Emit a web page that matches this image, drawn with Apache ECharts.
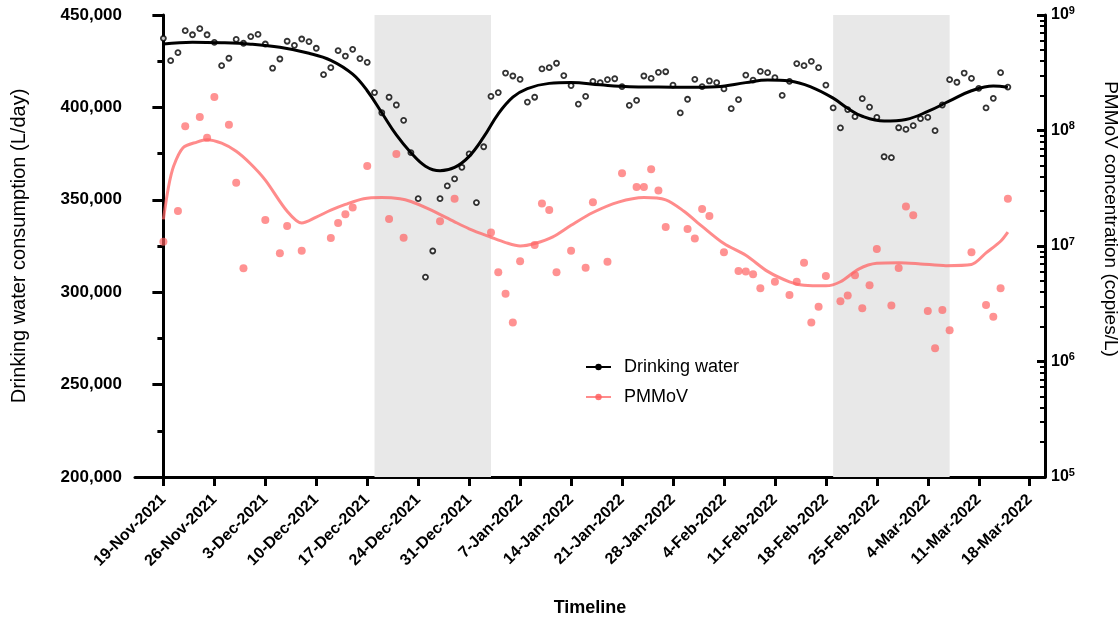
<!DOCTYPE html>
<html>
<head>
<meta charset="utf-8">
<script src="https://cdn.jsdelivr.net/npm/echarts@6/dist/echarts.min.js"></script>
<style>
  html, body { margin: 0; padding: 0; background: #fff; }
  #chart { width: 1120px; height: 619px; }
</style>
</head>
<body>
<div id="chart"></div>
<script>
// Day 0 of the timeline: 19 November 2021. All day numbers below count from it.
const START_UTC = Date.UTC(2021, 10, 19);

// Daily drinking water consumption (L/day), one value per day from day 0 (19-Nov-2021) to day 116 (15-Mar-2022)
const waterValues = [
  437400, 425300, 429600, 441500, 439300, 442600, 439300, 435200, 422600, 426600,
  436800, 434700, 438300, 439500, 434300, 421200, 426200, 435800, 433600, 437000,
  435600, 432000, 417700, 421500, 430700, 427800, 431400, 426400, 424400, 408000,
  397100, 405500, 401300, 393000, 375500, 350600, 308200, 322300, 350600, 357500,
  361300, 367600, 374800, 348500, 378700, 406000, 408000, 418600, 417000, 415200,
  402900, 405500, 420800, 421500, 423900, 417200, 411800, 401800, 406000, 414100,
  413400, 415000, 415500, 411200, 401100, 403800, 417000, 415700, 419000, 419300,
  412100, 397000, 404400, 415200, 411200, 414300, 413400, 410000, 399300, 404200,
  417500, 414800, 419500, 418800, 416100, 406500, 414100, 423700, 422600, 424900,
  421500, 412100, 399700, 388900, 398800, 395000, 404700, 400200, 394600, 373300,
  372800, 389000, 388100, 390100, 393900, 394600, 387400, 401300, 415000, 413600,
  418600, 415700, 410300, 399700, 404900, 418800, 411000
];

// PMMoV samples: sampling day and concentration (copies/L)
const pmmovDays = [
  0, 2, 3, 5, 6, 7, 9, 10, 11, 14, 16, 17, 19, 23, 24, 25, 26, 28, 31, 32,
  33, 38, 40, 45, 46, 47, 48, 49, 51, 52, 53, 54, 56, 58, 59, 61, 63, 65, 66, 67,
  68, 69, 72, 73, 74, 75, 77, 79, 80, 81, 82, 84, 86, 87, 88, 89, 90, 91, 93, 94,
  95, 96, 97, 98, 100, 101, 102, 103, 105, 106, 107, 108, 111, 113, 114, 115, 116
];
const pmmovValues = [
  1.09e7, 2.01e7, 1.09e8, 1.31e8, 8.67e7, 1.95e8, 1.12e8, 3.53e7, 6.41e6, 1.68e7,
  8.65e6, 1.49e7, 9.10e6, 1.17e7, 1.58e7, 1.88e7, 2.15e7, 4.93e7, 1.71e7, 6.26e7,
  1.18e7, 1.64e7, 2.57e7, 1.31e7, 5.92e6, 3.86e6, 2.18e6, 7.37e6, 1.02e7, 2.33e7,
  2.05e7, 5.92e6, 9.10e6, 6.49e6, 2.39e7, 7.31e6, 4.26e7, 3.24e7, 3.24e7, 4.61e7,
  3.03e7, 1.46e7, 1.40e7, 1.16e7, 2.09e7, 1.82e7, 8.81e6, 6.08e6, 6.00e6, 5.69e6,
  4.31e6, 4.91e6, 3.77e6, 4.91e6, 7.16e6, 2.18e6, 2.98e6, 5.50e6, 3.32e6, 3.72e6,
  5.58e6, 2.89e6, 4.57e6, 9.42e6, 3.06e6, 6.45e6, 2.20e7, 1.85e7, 2.74e6, 1.30e6,
  2.79e6, 1.86e6, 8.81e6, 3.08e6, 2.44e6, 4.31e6, 2.57e7
];

// Smoothed trend of drinking water consumption (day, L/day)
const waterTrendDays = [
  0, 4, 8, 12, 16, 20, 23, 26, 28, 30, 32, 34, 36, 38, 40, 42, 44, 46, 48, 50,
  53, 56, 60, 64, 68, 72, 76, 80, 83, 86, 89, 92, 94, 96, 99, 102, 105, 108, 111, 114, 116
];
const waterTrendValues = [
  434300, 435300, 435000, 434200, 432500, 429300, 425500, 418000, 409000, 397100,
  385100, 375500, 368200, 365700, 367500, 373500, 384000, 396500, 405500, 410200,
  413000, 413500, 412200, 411200, 411000, 410900, 411200, 413400, 414800, 414300,
  411000, 405000, 399500, 395200, 392600, 393500, 397800, 403500, 409000, 411600, 410900
];

// Smoothed trend of PMMoV concentration (day, copies/L)
const pmmovTrendDays = [
  0, 0.7, 1.4, 2.7, 4.6, 6, 8, 10, 12, 14, 17, 19, 21, 23, 25, 27.5, 30, 32.5, 34, 36.5,
  40, 42, 45, 47, 49, 51, 53.5, 56, 59, 62.5, 66, 69, 71.5, 74, 77, 80, 83, 86, 88, 91,
  93, 95.5, 98, 101, 104, 107.5, 111, 113, 115, 116
];
const pmmovTrendValues = [
  1.70e7, 3.24e7, 4.90e7, 7.08e7, 7.94e7, 8.32e7, 7.76e7, 6.61e7, 5.13e7, 3.72e7,
  2.00e7, 1.58e7, 1.78e7, 2.04e7, 2.29e7, 2.57e7, 2.63e7, 2.57e7, 2.43e7, 2.09e7,
  1.62e7, 1.41e7, 1.19e7, 1.07e7, 1.00e7, 1.05e7, 1.20e7, 1.51e7, 1.95e7, 2.40e7,
  2.63e7, 2.51e7, 2.00e7, 1.48e7, 1.05e7, 8.32e6, 6.03e6, 4.90e6, 4.57e6, 4.52e6,
  4.90e6, 6.31e6, 7.08e6, 7.16e6, 7.00e6, 6.76e6, 6.92e6, 8.71e6, 1.10e7, 1.32e7
];

// Shaded periods (start day, end day): 18-Dec-2021 to 3-Jan-2022 and 19-Feb-2022 to 7-Mar-2022
const shadedPeriods = [[29, 45], [92, 108]];

// Weekly timeline ticks, 19-Nov-2021 to 18-Mar-2022
const timelineTickDays = [0, 7, 14, 21, 28, 35, 42, 49, 56, 63, 70, 77, 84, 91, 98, 105, 112, 119];
const timelineRange = [-3.9, 121.1];

// Axis ticks
const waterTicks = [200000, 250000, 300000, 350000, 400000, 450000];
const pmmovDecades = [1e5, 1e6, 1e7, 1e8, 1e9];
const pmmovMinorTicks = [];
pmmovDecades.slice(0, -1).forEach(function (d) {
  for (let k = 2; k <= 9; k++) pmmovMinorTicks.push(d * k);
});

const MONTHS = ['Jan', 'Feb', 'Mar', 'Apr', 'May', 'Jun', 'Jul', 'Aug', 'Sep', 'Oct', 'Nov', 'Dec'];
function formatDay(d) {
  const dt = new Date(START_UTC + Math.round(d) * 86400000);
  return dt.getUTCDate() + '-' + MONTHS[dt.getUTCMonth()] + '-' + dt.getUTCFullYear();
}
function pairs(days, values) { return days.map(function (d, i) { return [d, values[i]]; }); }

const FONT = '"Liberation Sans", Arial, Helvetica, sans-serif';

const chart = echarts.init(document.getElementById('chart'), null, { renderer: 'canvas' });
chart.setOption({
  animation: false,
  backgroundColor: '#fff',
  textStyle: { fontFamily: FONT, color: '#000' },
  grid: { left: 135, right: 75, top: 15, bottom: 142, containLabel: false, outerBoundsMode: 'none' },
  legend: {
    data: ['Drinking water', 'PMMoV'],
    orient: 'vertical',
    left: 580,
    top: 353,
    itemWidth: 25,
    itemHeight: 8,
    itemGap: 12,
    textStyle: { fontFamily: FONT, fontSize: 18, color: '#000', padding: [0, 0, 0, 8] }
  },
  xAxis: {
    type: 'value',
    min: timelineRange[0],
    max: timelineRange[1],
    name: 'Timeline',
    nameLocation: 'middle',
    nameGap: 122,
    nameTextStyle: { fontFamily: FONT, fontSize: 18, fontWeight: 'bold', color: '#000' },
    axisLine: { onZero: false, lineStyle: { color: '#000', width: 3 } },
    axisTick: { show: true, length: 9, lineStyle: { color: '#000', width: 3 }, customValues: timelineTickDays },
    axisLabel: {
      customValues: timelineTickDays,
      rotate: 45,
      margin: 20,
      fontFamily: FONT,
      fontSize: 16,
      fontWeight: 'bold',
      color: '#000',
      hideOverlap: false,
      formatter: function (v) { return formatDay(v); }
    },
    splitLine: { show: false }
  },
  yAxis: [
    {
      type: 'value',
      min: waterTicks[0],
      max: waterTicks[waterTicks.length - 1],
      interval: 50000,
      name: 'Drinking water consumption (L/day)',
      nameLocation: 'middle',
      nameRotate: 90,
      nameGap: 106,
      nameTextStyle: { fontFamily: FONT, fontSize: 20, color: '#000' },
      axisLine: { show: true, lineStyle: { color: '#000', width: 3 } },
      axisTick: { show: true, length: 11, lineStyle: { color: '#000', width: 3 } },
      minorTick: { show: true, splitNumber: 2, length: 6, lineStyle: { color: '#000', width: 3 } },
      axisLabel: {
        margin: 13,
        fontFamily: FONT,
        fontSize: 17,
        fontWeight: 'bold',
        color: '#000',
        formatter: function (v) { return v.toLocaleString('en-US'); }
      },
      splitLine: { show: false }
    },
    {
      type: 'log',
      logBase: 10,
      min: pmmovDecades[0],
      max: pmmovDecades[pmmovDecades.length - 1],
      position: 'right',
      name: 'PMMoV concentration (copies/L)',
      nameLocation: 'middle',
      nameRotate: -90,
      nameGap: 56,
      nameTextStyle: { fontFamily: FONT, fontSize: 19, color: '#000', padding: [0, 54, 0, 0] },
      axisLine: { show: true, lineStyle: { color: '#000', width: 3 } },
      axisTick: { show: true, inside: true, length: 8, lineStyle: { color: '#000', width: 3 } },
      axisLabel: {
        margin: 6,
        formatter: function (v) {
          return '{b|10}{s|' + Math.round(Math.log10(v)) + '}';
        },
        rich: {
          b: { fontFamily: FONT, fontSize: 16, fontWeight: 'bold', color: '#000', lineHeight: 20 },
          s: { fontFamily: FONT, fontSize: 11, fontWeight: 'bold', color: '#000', verticalAlign: 'top', lineHeight: 11 }
        }
      },
      splitLine: { show: false }
    },
    {
      type: 'log',
      logBase: 10,
      min: pmmovDecades[0],
      max: pmmovDecades[pmmovDecades.length - 1],
      position: 'right',
      axisLine: { show: false },
      axisTick: { show: true, inside: true, length: 5, lineStyle: { color: '#000', width: 2 }, customValues: pmmovMinorTicks },
      axisLabel: { show: false },
      splitLine: { show: false }
    }
  ],
  series: [
    {
      name: 'shading',
      type: 'line',
      data: [],
      z: 0,
      silent: true,
      markArea: {
        silent: true,
        itemStyle: { color: '#e8e8e8' },
        data: shadedPeriods.map(function (p) {
          return [{ xAxis: p[0] }, { xAxis: p[1] }];
        })
      }
    },
    {
      name: 'PMMoV samples',
      type: 'scatter',
      yAxisIndex: 1,
      z: 2,
      symbol: 'circle',
      symbolSize: 8,
      itemStyle: { color: 'rgba(255, 95, 95, 0.85)' },
      data: pairs(pmmovDays, pmmovValues)
    },
    {
      name: 'PMMoV',
      type: 'line',
      yAxisIndex: 1,
      z: 3,
      smooth: 0.3,
      symbol: 'circle',
      symbolSize: 7,
      showSymbol: false,
      itemStyle: { color: 'rgba(255, 95, 95, 0.85)' },
      lineStyle: { color: 'rgba(255, 100, 100, 0.75)', width: 3 },
      data: pairs(pmmovTrendDays, pmmovTrendValues)
    },
    {
      name: 'Drinking water daily',
      type: 'scatter',
      yAxisIndex: 0,
      z: 4,
      symbol: 'circle',
      symbolSize: 5,
      itemStyle: { color: '#fff', borderColor: '#000', borderWidth: 1.8 },
      data: waterValues.map(function (v, i) { return [i, v]; })
    },
    {
      name: 'Drinking water',
      type: 'line',
      yAxisIndex: 0,
      z: 5,
      smooth: 0.4,
      symbol: 'circle',
      symbolSize: 7,
      showSymbol: false,
      itemStyle: { color: '#000' },
      lineStyle: { color: '#000', width: 3 },
      data: pairs(waterTrendDays, waterTrendValues)
    }
  ]
});
</script>
</body>
</html>
